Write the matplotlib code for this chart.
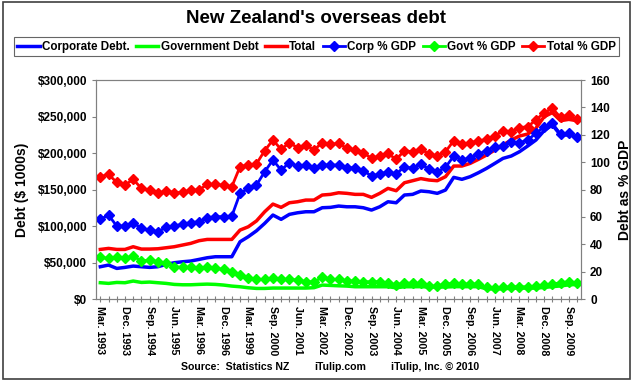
import numpy as np
import matplotlib
matplotlib.use('Agg')
import matplotlib.pyplot as plt
from matplotlib.lines import Line2D
from matplotlib.patches import Rectangle
from matplotlib.ticker import FuncFormatter

plt.rcParams['font.family'] = ['Liberation Sans', 'DejaVu Sans']
plt.rcParams['font.weight'] = 'bold'

# categories: quarterly, with a semi-annual stretch 1998-2000
def quarters(y0, q0, y1, q1):
    names = ['Mar.', 'Jun.', 'Sep.', 'Dec.']
    out = []
    y, q = y0, q0
    while (y, q) <= (y1, q1):
        out.append('%s %d' % (names[q], y))
        q += 1
        if q == 4:
            q, y = 0, y + 1
    return out

periods = (quarters(1993, 0, 1996, 3)
           + ['Mar. 1998', 'Sep. 1998', 'Mar. 1999', 'Sep. 1999', 'Mar. 2000', 'Sep. 2000']
           + quarters(2000, 3, 2009, 3))

# debt in $ 1000s
corp_debt = [44300, 46600, 42000, 43400, 45200, 44300, 43400, 44300, 47500, 49800,
             51100, 52100, 54300, 56600, 58000, 58000, 58000, 78500, 85400, 93500,
             103700, 115100, 109200, 116000, 118200, 119600, 119600, 125100, 125600, 127400,
             126400, 126400, 125100, 121900, 126400, 133300, 131900, 142500, 143400, 148000,
             147000, 144800, 149300, 166700, 164000, 167600, 173000, 179000, 185800, 192700,
             195900, 201800, 209600, 217800, 230600, 238400, 224700, 224700, 222400]
govt_debt = [22400, 21500, 22800, 22400, 24700, 22800, 23300, 22400, 21500, 20100,
             19600, 19600, 20100, 20500, 20100, 19200, 17800, 16900, 15500, 14600,
             14600, 15100, 15100, 15100, 15100, 15100, 15600, 19200, 18700, 18200,
             17800, 16900, 16900, 16900, 16900, 16900, 15500, 16900, 16900, 17000,
             16500, 16500, 16500, 17000, 17000, 17000, 17000, 14000, 14000, 14000,
             15000, 15000, 15000, 15000, 16000, 17000, 18000, 19500, 20000]
total_debt = [68000, 69400, 68000, 68000, 71700, 68500, 68500, 68900, 70300, 71700,
              74000, 76300, 79900, 81700, 81700, 81700, 81700, 94500, 99000, 107000,
              119600, 130100, 125600, 131900, 133300, 135600, 135600, 142500, 143400, 145600,
              144800, 143400, 143400, 139300, 144800, 151600, 148400, 159300, 162100, 165000,
              163000, 162100, 167600, 182200, 182200, 185800, 191300, 197300, 204100, 211000,
              217800, 223300, 226000, 233800, 249800, 255300, 244300, 246100, 244300]

# debt as % of GDP
corp_pct = [58.2, 61.4, 53.3, 53.3, 55.8, 51.6, 50.4, 49.2, 52.4, 53.3,
            54.8, 55.8, 56.5, 59.4, 60.2, 60.2, 60.6, 77.2, 80.9, 83.3,
            93.0, 101.6, 94.2, 99.6, 97.2, 97.9, 95.5, 97.9, 97.9, 97.9,
            95.9, 95.9, 93.8, 89.9, 91.3, 93.0, 91.3, 96.7, 95.5, 98.8,
            94.7, 93.0, 96.2, 104.5, 101.6, 102.8, 105.9, 108.4, 111.3, 111.8,
            114.9, 114.2, 116.2, 121.0, 125.9, 128.4, 120.5, 121.0, 118.1]
govt_pct = [30.4, 29.7, 30.9, 29.7, 31.4, 27.8, 28.5, 27.3, 26.1, 23.6,
            23.1, 23.1, 22.4, 23.6, 22.4, 21.7, 20.0, 17.5, 15.1, 14.4,
            14.4, 15.1, 14.4, 14.4, 13.9, 12.7, 12.7, 15.8, 14.4, 14.4,
            13.2, 13.2, 12.7, 12.7, 12.7, 11.9, 10.2, 11.9, 11.4, 11.5,
            9.5, 9.5, 11.0, 11.4, 11.0, 11.0, 11.0, 8.5, 7.8, 8.5,
            9.0, 9.0, 9.0, 9.5, 10.2, 11.0, 11.9, 12.7, 11.9]
total_pct = [89.4, 91.1, 85.2, 83.3, 87.4, 80.9, 79.6, 77.2, 78.9, 77.7,
             77.9, 79.6, 79.6, 83.8, 83.8, 83.0, 82.1, 96.7, 97.9, 98.8,
             108.4, 116.2, 109.3, 114.2, 110.6, 112.5, 108.9, 114.2, 113.0, 113.7,
             110.1, 108.9, 106.9, 102.8, 104.5, 106.4, 102.0, 108.4, 107.6, 109.7,
             105.9, 104.5, 107.6, 115.7, 113.2, 114.2, 115.4, 116.7, 119.1, 123.0,
             122.2, 125.2, 125.9, 130.8, 136.1, 139.3, 132.7, 134.4, 131.3]

BLUE, GREEN, RED = '#0000ff', '#00ff00', '#ff0000'
x = np.arange(len(periods))

fig = plt.figure(figsize=(6.33, 3.81), dpi=100)
fig.patches.append(Rectangle((0.004, 0.005), 0.992, 0.99, transform=fig.transFigure,
                             fill=False, edgecolor='#404040', linewidth=1.2))

ax = fig.add_axes([0.152, 0.215, 0.766, 0.575])
ax2 = ax.twinx()

lw = 2.5
ax.plot(x, corp_debt, color=BLUE, lw=lw)
ax.plot(x, govt_debt, color=GREEN, lw=lw)
ax.plot(x, total_debt, color=RED, lw=lw)
mk = dict(marker='D', markersize=5.5, lw=2.0)
ax2.plot(x, corp_pct, color=BLUE, **mk)
ax2.plot(x, govt_pct, color=GREEN, **mk)
ax2.plot(x, total_pct, color=RED, **mk)

ax.set_xlim(-0.5, len(x) - 0.5)
ax.set_ylim(0, 300000)
ax2.set_ylim(0, 160)
ax.set_yticks(np.arange(0, 300001, 50000))
ax2.set_yticks(np.arange(0, 161, 20))
ax.yaxis.set_major_formatter(FuncFormatter(lambda v, p: '${:,.0f}'.format(v)))

ax.set_xticks(x)
ax.set_xticklabels([p if i % 3 == 0 else '' for i, p in enumerate(periods)],
                   rotation=270, fontsize=7.7, fontweight='bold')
ax.tick_params(axis='x', direction='inout', length=4, color='#808080', pad=3)
ax.tick_params(axis='y', direction='out', length=3, color='#808080', labelsize=8.5)
ax2.tick_params(axis='y', direction='out', length=3, color='#808080', labelsize=8.5)
for a in (ax, ax2):
    for s in a.spines.values():
        s.set_color('#808080')

ax.set_ylabel('Debt ($ 1000s)', fontsize=10, fontweight='bold', labelpad=6)
ax2.set_ylabel('Debt as % GDP', fontsize=10, fontweight='bold', labelpad=6)

fig.text(0.5, 0.952, "New Zealand's overseas debt", ha='center', va='center',
         fontsize=13.5, fontweight='bold')

handles = [Line2D([], [], color=BLUE, lw=lw),
           Line2D([], [], color=GREEN, lw=lw),
           Line2D([], [], color=RED, lw=lw),
           Line2D([], [], color=BLUE, **mk),
           Line2D([], [], color=GREEN, **mk),
           Line2D([], [], color=RED, **mk)]
labels = ['Corporate Debt.', 'Government Debt', 'Total', 'Corp % GDP', 'Govt % GDP', 'Total % GDP']
leg = fig.legend(handles, labels, loc='center', bbox_to_anchor=(0.5, 0.877), ncol=6,
                 fontsize=8.4, frameon=True, fancybox=False, handlelength=1.9,
                 handletextpad=0.2, columnspacing=0.55, borderpad=0.3)
leg.get_frame().set_edgecolor('#404040')
leg.get_frame().set_linewidth(0.8)
for t in leg.get_texts():
    t.set_fontweight('bold')

fig.text(0.372, 0.037, 'Source:  Statistics NZ', ha='center', va='center', fontsize=7.6, fontweight='bold')
fig.text(0.537, 0.037, 'iTulip.com', ha='center', va='center', fontsize=7.6, fontweight='bold')
fig.text(0.687, 0.037, 'iTulip, Inc. \u00a9 2010', ha='center', va='center', fontsize=7.6, fontweight='bold')

fig.savefig('out.png', dpi=100)
